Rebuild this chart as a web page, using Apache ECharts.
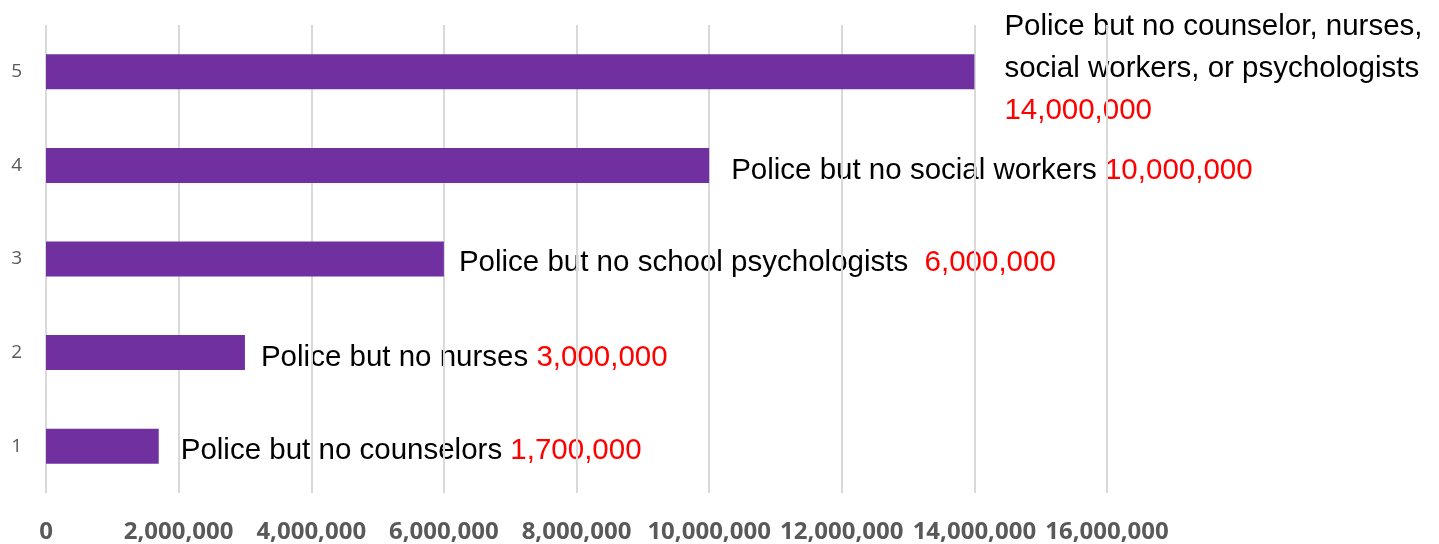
<!DOCTYPE html>
<html>
<head>
<meta charset="utf-8">
<title>Police but no support staff</title>
<script src="https://cdn.jsdelivr.net/npm/echarts@6/dist/echarts.min.js"></script>
<style>
  html, body { margin: 0; padding: 0; background: #ffffff; }
  #chart { width: 1439px; height: 544px; }
</style>
</head>
<body>
<div id="chart"></div>
<script>
// Category ticks (bottom to top)
const categories = ['1', '2', '3', '4', '5'];
// Students affected in each group
const values = [1700000, 3000000, 6000000, 10000000, 14000000];
// Descriptions shown next to each bar
const descriptions = [
  'Police but no counselors ',
  'Police but no nurses ',
  'Police but no school psychologists  ',
  'Police but no social workers ',
  'Police but no counselor, nurses,\nsocial workers, or psychologists\n'
];
// Value axis range
const axisMin = 0;
const axisMax = 16000000;
const axisStep = 2000000;

// Label placement next to each bar (gap from bar end, vertical nudge)
const labelGap = [22, 16, 15, 22, 30];
const labelNudge = [5, 5, 4, 5, -3];

const fmt = v => v.toLocaleString('en-US');
const labelFont = '"Liberation Sans Narrow", "Arial Narrow", "Liberation Sans", Arial, sans-serif';

function richLabel(i) {
  const lines = descriptions[i].split('\n');
  const parts = lines.map((ln, k) => {
    if (k === lines.length - 1) return (ln ? '{t|' + ln + '}' : '') + '{v|' + fmt(values[i]) + '}';
    return '{t|' + ln + '}';
  });
  return parts.join('\n');
}

const labelItems = values.map((v, i) => ({
  value: v,
  label: { distance: labelGap[i], offset: [0, labelNudge[i]] }
}));

const chart = echarts.init(document.getElementById('chart'), null, { renderer: 'canvas' });

chart.setOption({
  animation: false,
  backgroundColor: '#ffffff',
  grid: { left: 46, right: 332, top: 25, bottom: 51, containLabel: false },
  xAxis: {
    type: 'value',
    min: axisMin,
    max: axisMax,
    interval: axisStep,
    z: 2,
    axisLine: { show: false },
    axisTick: { show: false },
    splitLine: { show: true, lineStyle: { color: '#d9d9d9', width: 2 } },
    axisLabel: {
      margin: 27,
      color: '#595959',
      fontFamily: '"Open Sans", "Noto Sans", sans-serif',
      fontWeight: 'bold',
      fontSize: 24,
      formatter: v => fmt(v)
    }
  },
  yAxis: {
    type: 'category',
    data: categories,
    z: 2,
    axisLine: { show: false },
    axisTick: { show: false },
    splitLine: { show: false },
    axisLabel: {
      margin: 24,
      color: '#595959',
      fontFamily: '"Open Sans", "Noto Sans", sans-serif',
      fontSize: 19
    }
  },
  series: [
    {
      // text labels sit beneath the grid lines
      type: 'bar',
      data: labelItems,
      barWidth: 35,
      z: 1,
      silent: true,
      itemStyle: { color: 'rgba(0,0,0,0)' },
      label: {
        show: true,
        position: 'right',
        align: 'left',
        formatter: p => richLabel(p.dataIndex),
        rich: {
          t: { fontFamily: labelFont, fontSize: 29.5, color: '#000000', lineHeight: 42 },
          v: { fontFamily: labelFont, fontSize: 29.5, color: '#ff0000', lineHeight: 42 }
        }
      }
    },
    {
      type: 'bar',
      data: values,
      barWidth: 35,
      barGap: '-100%',
      z: 3,
      itemStyle: { color: '#7030a0' }
    }
  ]
});
</script>
</body>
</html>
